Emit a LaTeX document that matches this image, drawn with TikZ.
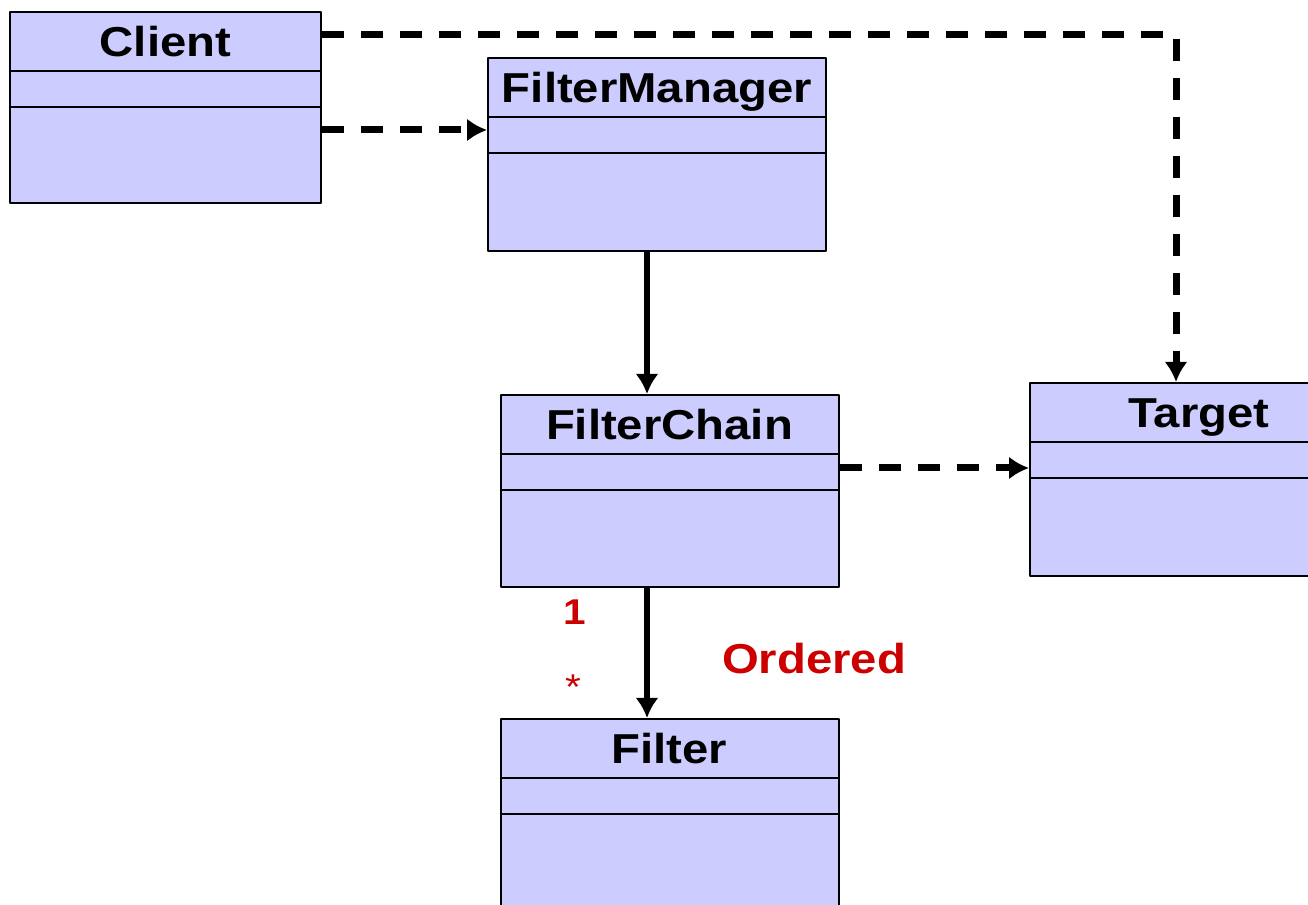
\documentclass[tikz,border=0pt]{standalone}
\usepackage{fontspec}
\newfontfamily\umlfont[FakeStretch=1.13]{Liberation Sans}
\usetikzlibrary{arrows.meta}
\definecolor{classfill}{RGB}{204,204,255}
\definecolor{notered}{RGB}{204,0,0}
\tikzset{
  class/.style={draw=black,line width=1bp,fill=classfill,rectangle,
    minimum width=169bp,minimum height=96bp,inner sep=0pt},
  classname/.style={anchor=base,yshift=-23bp,
    font=\umlfont\bfseries\fontsize{21}{25}\selectfont},
  dep/.style={->,line width=3.5bp,dash pattern=on 11bp off 8.5bp},
  assoc/.style={->,line width=3bp},
  note/.style={text=notered,inner sep=0pt},
}
\begin{document}
\begin{tikzpicture}[>={Latex[length=10bp,width=11.5bp]},line join=bevel,]
    \useasboundingbox (0,0) rectangle (654bp,452.5bp);
    %%
    \node (Client) at (82.75bp,398.75bp) [class,minimum width=155.5bp,minimum height=95.5bp,
      label={[classname]north:Client}] {};
    \node (FilterManager) at (328.5bp,375.25bp) [class,minimum height=96.5bp,
      label={[classname]north:FilterManager}] {};
    \node (FilterChain) at (334.75bp,207bp) [class,
      label={[classname]north:FilterChain}] {};
    \node (Target) at (599.5bp,212.75bp) [class,minimum height=96.5bp,
      label={[classname]north:Target}] {};
    \node (Filter) at (334.75bp,45bp) [class,
      label={[classname]north:Filter}] {};
    \foreach \c in {Client,FilterManager,FilterChain,Target,Filter}{
      \draw [line width=1bp] ([yshift=-30bp]\c.north west) -- ([yshift=-30bp]\c.north east);
      \draw [line width=1bp] ([yshift=-48bp]\c.north west) -- ([yshift=-48bp]\c.north east);
    }
    %
    \draw [dep] ([yshift=36.25bp]Client.east) -| ([xshift=-11.5bp]Target.north);
    \draw [dep] ([yshift=-11.25bp]Client.east) coordinate (cm) -- (cm -| FilterManager.west);
    \draw [assoc] ([xshift=-5bp]FilterManager.south) coordinate (fm) -- (fm |- FilterChain.north);
    \draw [dep] ([yshift=11.5bp]FilterChain.east) coordinate (fc) -- (fc -| Target.west);
    \draw [assoc] ([xshift=-11.25bp]FilterChain.south) coordinate (fs) -- (fs |- Filter.north);
    %
    \node (one) at (287.5bp,146.5bp) [note,font=\umlfont\bfseries\fontsize{18}{22}\selectfont] {1};
    \node (many) at (286.5bp,109bp) [note,font=\umlfont\fontsize{18}{22}\selectfont] {*};
    \node (ordered) at (407bp,123bp) [note,font=\umlfont\bfseries\fontsize{21}{25}\selectfont] {Ordered};
\end{tikzpicture}
\end{document}
